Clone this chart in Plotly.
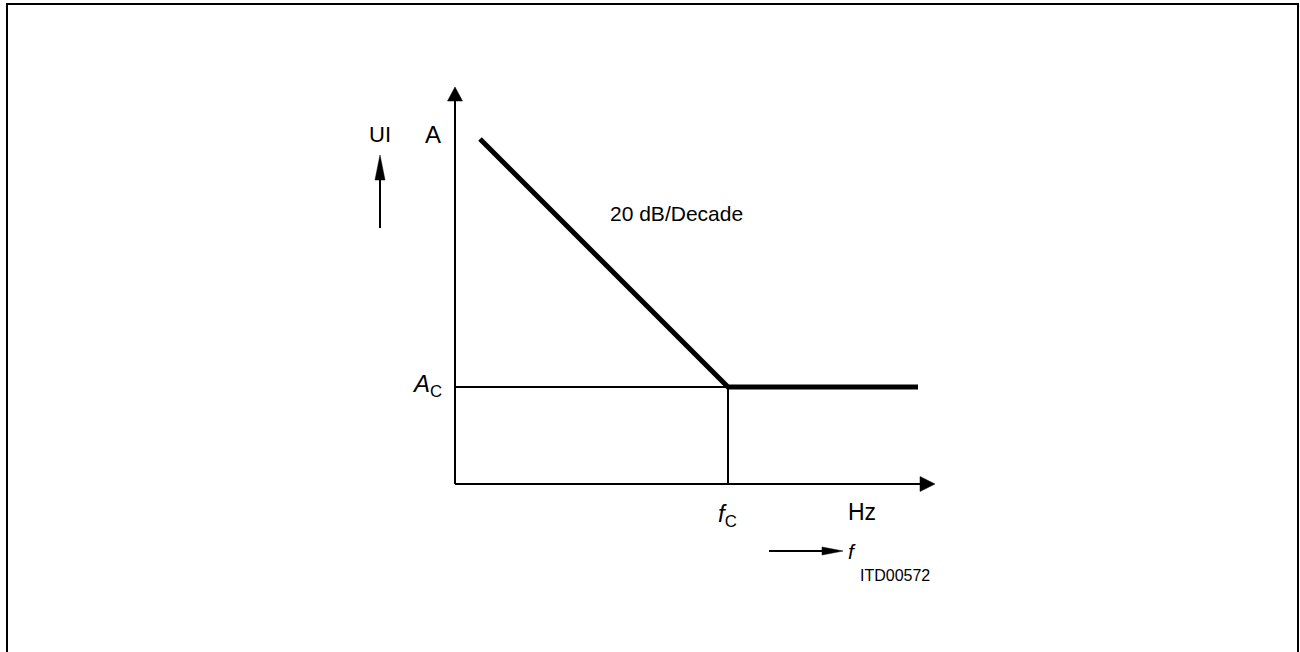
import plotly.graph_objects as go

# asymptotic gain curve: frequency in decades, gain in dB
curve_dec = [0.25, 2.73, 4.63]
curve_db = [69.0, 19.4, 19.4]
ac_db = 19.4
fc_dec = 2.73
x_axis_end = 4.80
y_axis_end = 79.4

PX_X = 100.0  # px per decade
PX_Y = 5.0    # px per dB
FONT = "Liberation Sans Narrow, Arial Narrow, Liberation Sans, Arial, sans-serif"


def head(tip_x, tip_y, dx, dy, length, width):
    # filled arrow head, length/width given in px
    tx, ty = tip_x * PX_X, tip_y * PX_Y
    bx, by = tx - dx * length, ty - dy * length
    px, py = -dy * width / 2, dx * width / 2
    xs = [tx, bx + px, bx - px, tx]
    ys = [ty, by + py, by - py, ty]
    return go.Scatter(x=[v / PX_X for v in xs], y=[v / PX_Y for v in ys],
                      mode="lines", fill="toself", fillcolor="black",
                      line=dict(color="black", width=0.5),
                      hoverinfo="skip", showlegend=False)


def seg(xs, ys, w):
    return go.Scatter(x=xs, y=ys, mode="lines", line=dict(color="black", width=w),
                      hoverinfo="skip", showlegend=False)


fig = go.Figure()

# axes
fig.add_trace(seg([0, x_axis_end - 14 / PX_X], [0, 0], 2))
fig.add_trace(seg([0, 0], [0, y_axis_end - 13 / PX_Y], 2))
fig.add_trace(head(x_axis_end, 0, 1, 0, 15, 15))
fig.add_trace(head(0, y_axis_end, 0, 1, 14, 15))

# guide lines to the corner point
fig.add_trace(seg([0, fc_dec], [ac_db, ac_db], 2))
fig.add_trace(seg([fc_dec, fc_dec], [0, ac_db], 2))

# gain curve
fig.add_trace(seg(curve_dec, curve_db, 5))

# small direction arrows next to the labels
fig.add_trace(seg([-0.75, -0.75], [51.2, 65.8 - 24 / PX_Y], 2))
fig.add_trace(head(-0.75, 65.8, 0, 1, 25, 10))
fig.add_trace(seg([3.14, 3.88 - 20 / PX_X], [-13.4, -13.4], 2))
fig.add_trace(head(3.88, -13.4, 1, 0, 21, 8))

labels = [
    ("UI", -0.75, 70.0, 22),
    ("A", -0.22, 70.0, 24),
    ("20 dB/Decade", 2.21, 54.2, 21),
    ("<i>A</i><sub>C</sub>", -0.28, 19.8, 24),
    ("<i>f</i><sub>C</sub>", 2.72, -6.2, 24),
    ("Hz", 4.07, -5.6, 23),
    ("<i>f</i>", 3.97, -13.4, 21),
    ("ITD00572", 4.40, -18.2, 16),
]
for txt, x, y, s in labels:
    fig.add_annotation(x=x, y=y, text=txt, showarrow=False, xanchor="center",
                       yanchor="middle", font=dict(family=FONT, size=s, color="black"))

# frame
fig.add_shape(type="rect", xref="paper", yref="paper", x0=7 / 1300, x1=1298 / 1300,
              y0=-0.05, y1=1 - 4 / 652, line=dict(color="black", width=2))

fig.update_layout(
    width=1300, height=652,
    margin=dict(l=0, r=0, t=0, b=0),
    paper_bgcolor="white", plot_bgcolor="white",
    xaxis=dict(range=[-455 / PX_X, 845 / PX_X], visible=False, fixedrange=True),
    yaxis=dict(range=[-168 / PX_Y, 484 / PX_Y], visible=False, fixedrange=True),
)

fig.write_html("out.html", config={"displayModeBar": False},
               post_script="document.body.style.margin='0';")
